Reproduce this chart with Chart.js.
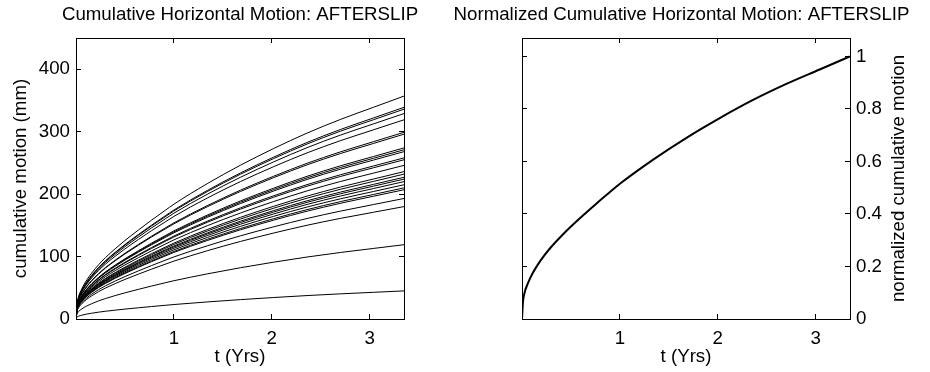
<!DOCTYPE html>
<html>
<head>
<meta charset="utf-8">
<script src="https://cdn.jsdelivr.net/npm/chart.js@4.4.0/dist/chart.umd.min.js"></script>
<style>
    body { margin: 0; background: #fff; }
    #wrap { position: relative; width: 930px; height: 372px; overflow: hidden; }
    #leftChart { position: absolute; left: 0; top: 0; }
    #rightChart { position: absolute; left: 433px; top: 0; }
</style>
</head>
<body>
<div id="wrap">
    <canvas id="leftChart" width="480" height="372"></canvas>
    <canvas id="rightChart" width="497" height="372"></canvas>
</div>
<script>
// temps (années)
const tYears = [0, 0.01, 0.025, 0.06, 0.11, 0.16, 0.23, 0.30, 0.40, 0.50, 0.64, 0.77, 0.91, 1.0, 1.34, 1.68, 2.02, 2.36, 2.70, 3.04, 3.35];
const normMotion = [0, 0.065, 0.098, 0.136, 0.175, 0.206, 0.243, 0.275, 0.315, 0.352, 0.40, 0.443, 0.487, 0.515, 0.607, 0.690, 0.765, 0.834, 0.895, 0.950, 1.0];
// mouvement cumulé final de chaque station (mm) à t = 3.35
const finalMotion = [357, 339, 336, 329, 319, 299, 296, 274, 271, 268, 258, 255, 246, 236, 232, 227, 224, 220, 215, 210, 207, 193, 180, 119, 45];
// graduations
const xTicks = [1, 2, 3];
const mmTicks = [0, 100, 200, 300, 400];
const normTicks = [0, 0.2, 0.4, 0.6, 0.8, 1];

Chart.defaults.font.family = '"Liberation Sans", Arial, Helvetica, sans-serif';
Chart.defaults.font.size = 18.7;
Chart.defaults.color = '#000';

// taille fixe des axes pour placer la zone de tracé
function fixSize(size) {
    return function (scale) {
        if (scale.isHorizontal()) scale.height = size;
        else scale.width = size;
    };
}
function setTicks(values) {
    return function (scale) {
        scale.ticks = values.map(v => ({ value: v }));
    };
}
const plainLabel = v => String(v);
const gridIn = { drawOnChartArea: false, drawTicks: true, tickLength: -5, color: '#000', lineWidth: 1 };
const borderBlack = { display: true, color: '#000', width: 1 };

function titleOpts(text) {
    return {
        display: true,
        text: text,
        color: '#000',
        font: { size: 18.7, weight: 'normal' },
        padding: { top: 4, bottom: 11.56 }
    };
}

function xAxes() {
    return {
        x: {
            type: 'linear', position: 'bottom', min: 0, max: 3.35,
            afterBuildTicks: setTicks(xTicks),
            ticks: { padding: 14, color: '#000', callback: plainLabel },
            grid: gridIn, border: borderBlack,
            title: { display: true, text: 't (Yrs)', color: '#000', padding: { top: 0, bottom: 4 } },
            afterFit: fixSize(53)
        },
        xTop: {
            type: 'linear', position: 'top', min: 0, max: 3.35,
            afterBuildTicks: setTicks(xTicks),
            ticks: { display: false },
            grid: gridIn, border: borderBlack,
            afterFit: fixSize(0)
        }
    };
}

// ====== Graphique gauche : mouvement cumulé ======
// chaque station suit la même forme normalisée (panneau de droite)
const leftDatasets = finalMotion.map(function (finalMm) {
    return {
        data: tYears.map((t, i) => ({ x: t, y: finalMm * normMotion[i] })),
        borderColor: '#000',
        borderWidth: 1,
        pointRadius: 0,
        fill: false,
        cubicInterpolationMode: 'monotone',
        xAxisID: 'x',
        yAxisID: 'y'
    };
});

const leftScales = xAxes();
leftScales.y = {
    type: 'linear', position: 'left', min: 0, max: 450,
    afterBuildTicks: setTicks(mmTicks),
    ticks: { padding: 11, color: '#000', callback: plainLabel },
    grid: gridIn, border: borderBlack,
    title: { display: true, text: 'cumulative motion (mm)', color: '#000', padding: { top: 10, bottom: 0 } },
    afterFit: fixSize(76)
};
leftScales.yRight = {
    type: 'linear', position: 'right', min: 0, max: 450,
    afterBuildTicks: setTicks(mmTicks),
    ticks: { display: false },
    grid: gridIn, border: borderBlack,
    afterFit: fixSize(76)
};

new Chart(document.getElementById('leftChart'), {
    type: 'line',
    data: { datasets: leftDatasets },
    options: {
        responsive: false,
        animation: false,
        scales: leftScales,
        plugins: {
            legend: { display: false },
            tooltip: { enabled: false },
            title: titleOpts('Cumulative Horizontal Motion: AFTERSLIP')
        }
    }
});

// ====== Graphique droit : mouvement normalisé ======
const rightScales = xAxes();
rightScales.y = {
    type: 'linear', position: 'right', min: 0, max: 1.07,
    afterBuildTicks: setTicks(normTicks),
    ticks: { padding: 11, color: '#000', callback: plainLabel },
    grid: gridIn, border: borderBlack,
    afterFit: fixSize(80)
};
rightScales.yLeft = {
    type: 'linear', position: 'left', min: 0, max: 1.07,
    afterBuildTicks: setTicks(normTicks),
    ticks: { display: false },
    grid: gridIn, border: borderBlack,
    afterFit: fixSize(89)
};

// titre de l'axe droit, lu de bas en haut
const rightAxisTitle = {
    id: 'rightAxisTitle',
    afterDraw: function (chart) {
        const yScale = chart.scales.y;
        const ctx = chart.ctx;
        ctx.save();
        ctx.translate(yScale.right - 31, (chart.chartArea.top + chart.chartArea.bottom) / 2);
        ctx.rotate(-Math.PI / 2);
        ctx.font = '18.7px "Liberation Sans", Arial, Helvetica, sans-serif';
        ctx.fillStyle = '#000';
        ctx.textAlign = 'center';
        ctx.textBaseline = 'middle';
        ctx.fillText('normalized cumulative motion', 0, 0);
        ctx.restore();
    }
};

new Chart(document.getElementById('rightChart'), {
    type: 'line',
    data: {
        datasets: [{
            data: tYears.map((t, i) => ({ x: t, y: normMotion[i] })),
            borderColor: '#000',
            borderWidth: 2,
            pointRadius: 0,
            fill: false,
            cubicInterpolationMode: 'monotone',
            xAxisID: 'x',
            yAxisID: 'y'
        }]
    },
    options: {
        responsive: false,
        animation: false,
        scales: rightScales,
        plugins: {
            legend: { display: false },
            tooltip: { enabled: false },
            title: titleOpts('Normalized Cumulative Horizontal Motion: AFTERSLIP')
        }
    },
    plugins: [rightAxisTitle]
});
</script>
</body>
</html>
